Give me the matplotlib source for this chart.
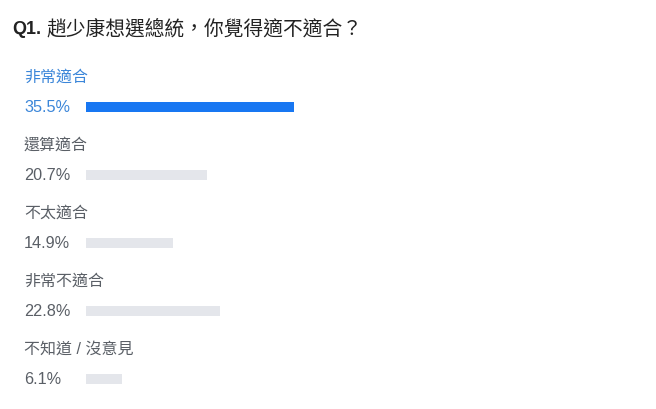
import matplotlib
matplotlib.use("Agg")
import matplotlib.pyplot as plt

# poll data
options = ["非常適合", "還算適合", "不太適合", "非常不適合", "不知道 / 沒意見"]
shares = [35.5, 20.7, 14.9, 22.8, 6.1]
title_q = "Q1."
title_text = "趙少康想選總統，你覺得適不適合？"

fams = ["Liberation Sans", "Noto Sans CJK TC", "DejaVu Sans"]
plt.rcParams["font.family"] = fams

W, H = 656, 410
fig = plt.figure(figsize=(W / 100, H / 100), dpi=100)
fig.patch.set_facecolor("white")

# axes from bar start (x=86px) to right edge; px per percent ~5.86
x0 = 86
ppp = 5.86
ax = fig.add_axes([x0 / W, 0, (W - x0) / W, 1])
ax.set_xlim(0, (W - x0) / ppp)
y_first, step = 108, 68
ax.set_ylim((H - y_first) / step, -y_first / step)
ax.axis("off")

top = shares.index(max(shares))
for i, (name, v) in enumerate(zip(options, shares)):
    hi = i == top
    ax.barh(i, v, height=10 / step, left=0,
            color="#1877f2" if hi else "#e4e6eb", edgecolor="none")
    tcol = "#3b86d9" if hi else "#5a5f66"
    ax.text(-(x0 - 24) / ppp, i, f"{v:.1f}%", ha="left", va="center",
            fontsize=11.7, color=tcol, clip_on=False)
    ax.text(-(x0 - 24) / ppp, i - 31 / step, name, ha="left", va="center",
            fontsize=11.5, color=tcol, clip_on=False)

t1 = fig.text(12 / W, 1 - 29 / H, title_q, ha="left", va="center",
              fontsize=13, fontweight="bold", color="#222222")
fig.canvas.draw()
bb = t1.get_window_extent()
fig.text((bb.x1 + 5) / W, 1 - 29 / H, title_text, ha="left", va="center",
         fontsize=14.2, fontweight="medium", color="#222222",
         family=["Noto Sans CJK TC", "DejaVu Sans"])

fig.savefig("out.png", dpi=100, facecolor="white")
